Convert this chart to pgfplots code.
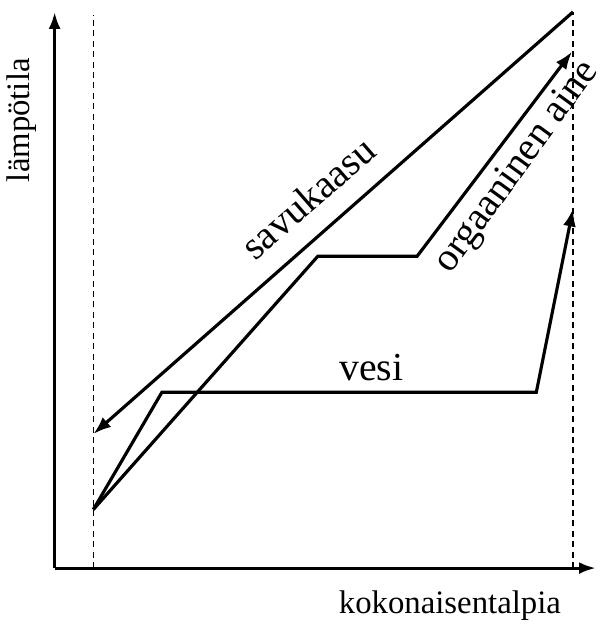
\documentclass[border=0pt]{standalone}
\usepackage{pgfplots}
\pgfplotsset{compat=1.18}
\usepackage{fontspec}
\setmainfont{Liberation Serif}
\usetikzlibrary{arrows.meta}
\begin{document}
\begin{tikzpicture}
\begin{axis}[
  x=1pt, y=1pt,
  xmin=0, xmax=600, ymin=0, ymax=624,
  hide axis, clip=false,
]
\path (axis cs:0,0) rectangle (axis cs:600,624);
% axes
\addplot[black, line width=3.2pt, -{Latex[length=17pt,width=12pt]}] coordinates {(55,52) (600,52)};
\addplot[black, line width=3.2pt, -{Latex[length=17pt,width=12pt]}] coordinates {(55,52) (55,612)};
% dashed guides
\addplot[black, line width=1.6pt, dash pattern=on 6pt off 4.5pt] coordinates {(94,52) (94,609)};
\addplot[black, line width=1.6pt, dash pattern=on 6pt off 4.5pt] coordinates {(577,52) (577,612)};
% savukaasu
\addplot[black, line width=3.2pt, -{Latex[length=18pt,width=13pt]}] coordinates {(577,612) (94,187)};
% organic
\addplot[black, line width=3.2pt, -{Latex[length=18pt,width=13pt]}] coordinates {(94,111) (320,366) (420,366) (576,572)};
% vesi
\addplot[black, line width=3.2pt, -{Latex[length=18pt,width=13pt]}] coordinates {(94,111) (163,229) (540,229) (577,414)};
% labels
\node[rotate=90, font=\fontsize{33}{36}\selectfont] at (axis cs:22,503) {lämpötila};
\node[font=\fontsize{33}{36}\selectfont] at (axis cs:453,14) {kokonaisentalpia};
\node[rotate=41, font=\fontsize{40}{44}\selectfont] at (axis cs:310,425) {savukaasu};
\node[rotate=54, font=\fontsize{40}{44}\selectfont] at (axis cs:521,455) {orgaaninen aine};
\node[font=\fontsize{40}{44}\selectfont] at (axis cs:374,254) {vesi};
\end{axis}
\end{tikzpicture}
\end{document}
